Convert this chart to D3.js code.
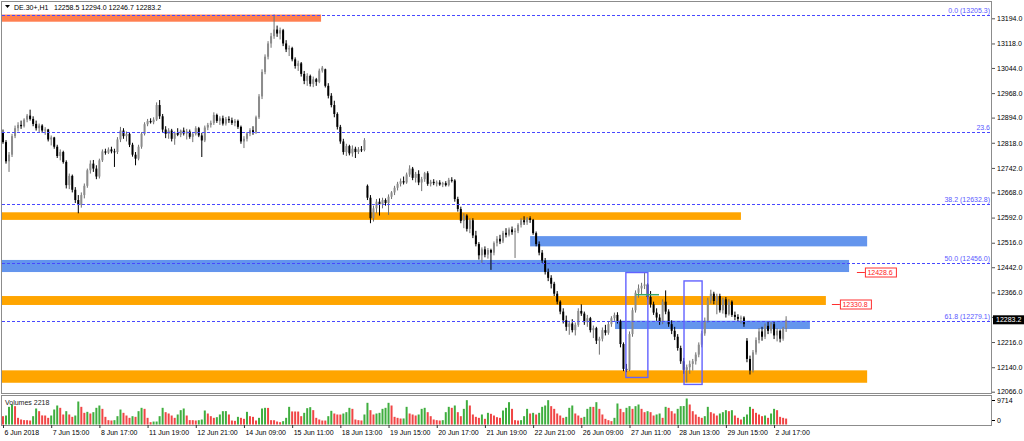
<!DOCTYPE html>
<html><head><meta charset="utf-8">
<script src="https://cdn.jsdelivr.net/npm/d3@7"></script>
<style>
body{margin:0;background:#fff;}
svg{display:block;font-family:"Liberation Sans",Arial,sans-serif;}
</style></head><body>
<svg id="c" width="1024" height="441"></svg>
<script>
const symbol = "DE.30+,H1";
// hourly bars [open, high, low, close], 6 Jun 2018 -> 2 Jul 2018
const bars = [
[12850,12858,12815,12820],[12820,12826,12755,12762],[12762,12790,12730,12782],[12782,12845,12775,12838],[12838,12870,12832,12862],[12862,12880,12852,12872],[12872,12885,12860,12868],[12868,12892,12864,12888],[12888,12905,12880,12900],
[12900,12918,12885,12890],[12890,12898,12868,12875],[12875,12885,12855,12862],[12862,12876,12850,12870],[12870,12874,12848,12855],[12855,12865,12842,12858],[12858,12860,12822,12828],[12828,12840,12810,12834],[12834,12836,12800,12806],[12806,12812,12772,12778],[12778,12798,12765,12790],[12790,12794,12755,12760],[12760,12765,12680,12690],[12690,12725,12678,12718],
[12718,12722,12668,12676],[12676,12684,12636,12645],[12645,12660,12605,12630],[12630,12668,12622,12660],[12660,12695,12650,12688],[12688,12740,12682,12735],[12735,12765,12725,12755],[12755,12766,12730,12740],[12740,12750,12708,12716],[12716,12770,12710,12765],[12765,12798,12760,12792],[12792,12800,12782,12788],[12788,12804,12784,12798],[12798,12806,12786,12792],
[12792,12800,12745,12790],[12790,12835,12784,12828],[12828,12866,12820,12855],[12855,12862,12830,12838],[12838,12852,12822,12845],[12845,12848,12805,12812],[12812,12818,12776,12782],[12782,12790,12750,12770],[12770,12812,12765,12806],[12806,12850,12800,12845],[12845,12880,12840,12874],[12874,12890,12868,12884],[12884,12892,12876,12880],[12880,12895,12874,12888],
[12888,12940,12884,12932],[12932,12947,12890,12898],[12898,12905,12850,12858],[12858,12868,12832,12845],[12845,12862,12830,12855],[12855,12860,12822,12830],[12830,12852,12812,12848],[12848,12862,12838,12842],[12842,12858,12835,12855],[12855,12864,12840,12846],[12846,12860,12828,12852],[12852,12858,12830,12836],[12836,12850,12820,12845],[12845,12868,12840,12862],
[12862,12866,12835,12840],[12840,12848,12775,12825],[12825,12870,12820,12864],[12864,12878,12856,12872],[12872,12885,12864,12878],[12878,12910,12872,12902],[12902,12906,12878,12884],[12884,12898,12872,12892],[12892,12900,12870,12876],[12876,12896,12870,12890],[12890,12898,12878,12886],[12886,12894,12872,12878],[12878,12890,12868,12884],[12884,12888,12860,12866],
[12866,12870,12815,12822],[12822,12838,12802,12830],[12830,12850,12822,12846],[12846,12862,12838,12856],[12856,12868,12842,12850],[12850,12900,12845,12895],[12895,12965,12890,12958],[12958,13040,12950,13032],[13032,13085,13025,13078],[13078,13125,13070,13118],[13118,13150,13105,13140],[13140,13205.3,13132,13160],[13160,13172,13138,13148],[13148,13166,13130,13158],
[13158,13162,13110,13118],[13118,13128,13092,13100],[13100,13112,13080,13104],[13104,13108,13064,13070],[13070,13076,13042,13050],[13050,13066,13035,13058],[13058,13062,13018,13026],[13026,13035,12995,13005],[13005,13028,12990,13020],[13020,13024,12988,12996],[12996,13018,12986,13010],[13010,13014,12990,13002],[13002,13042,12998,13036],[13036,13050,13030,13045],
[13040,13042,12985,12990],[12990,12998,12952,12960],[12960,12968,12925,12932],[12932,12945,12895,12905],[12905,12910,12858,12866],[12866,12872,12815,12822],[12822,12830,12782,12790],[12790,12815,12778,12808],[12808,12812,12780,12786],[12786,12810,12776,12800],[12800,12806,12772,12790],[12790,12805,12784,12798],[12798,12808,12790,12796],[12796,12832,12792,12826],
[12688,12692,12645,12652],[12652,12660,12575,12590],[12590,12628,12580,12620],[12620,12648,12605,12640],[12640,12650,12598,12632],[12632,12652,12620,12645],[12645,12650,12628,12636],[12636,12662,12600,12655],[12655,12672,12648,12668],[12668,12688,12660,12682],[12682,12700,12674,12694],[12694,12710,12686,12702],[12702,12716,12692,12698],[12698,12728,12694,12722],
[12722,12750,12715,12740],[12740,12745,12705,12712],[12712,12730,12698,12724],[12724,12735,12690,12698],[12698,12715,12672,12708],[12708,12730,12700,12726],[12726,12732,12688,12694],[12694,12706,12686,12700],[12700,12708,12690,12696],[12696,12704,12686,12698],[12698,12705,12688,12692],[12692,12700,12684,12696],[12696,12702,12686,12690],[12690,12712,12686,12706],
[12706,12714,12698,12704],[12704,12708,12640,12648],[12648,12655,12610,12618],[12618,12625,12575,12582],[12582,12605,12560,12598],[12598,12602,12550,12558],[12558,12590,12545,12584],[12584,12590,12530,12538],[12538,12552,12505,12512],[12512,12518,12465,12478],[12478,12502,12455,12496],[12496,12505,12472,12480],[12480,12500,12468,12494],[12494,12498,12434,12486],
[12486,12520,12478,12515],[12515,12536,12505,12528],[12528,12540,12512,12520],[12520,12552,12515,12546],[12546,12560,12532,12540],[12540,12562,12535,12556],[12556,12565,12540,12548],[12548,12560,12470,12552],[12552,12575,12545,12570],[12570,12590,12562,12584],[12584,12596,12570,12578],[12578,12594,12570,12590],[12590,12596,12576,12585],[12585,12588,12540,12545],
[12545,12550,12505,12512],[12512,12520,12478,12486],[12486,12494,12455,12462],[12462,12470,12420,12428],[12428,12438,12400,12410],[12410,12418,12378,12392],[12392,12398,12355,12362],[12362,12370,12330,12338],[12338,12342,12300,12308],[12308,12318,12272,12282],[12282,12296,12250,12262],[12262,12280,12238,12272],[12272,12285,12245,12252],[12252,12275,12236,12268],
[12268,12318,12262,12310],[12310,12330,12295,12302],[12302,12308,12268,12276],[12276,12298,12262,12288],[12288,12292,12245,12252],[12252,12266,12228,12258],[12258,12262,12210,12220],[12220,12232,12178,12226],[12226,12260,12218,12252],[12252,12268,12236,12244],[12244,12278,12238,12270],[12270,12294,12262,12288],[12288,12305,12280,12298],[12298,12306,12272,12280],
[12280,12284,12200,12210],[12210,12215,12128,12135],[12135,12150,12125,12132],[12132,12248,12128,12240],[12240,12320,12232,12312],[12312,12372,12305,12365],[12365,12390,12350,12378],[12378,12395,12360,12386],[12386,12425,12376,12390],[12390,12394,12345,12352],[12352,12370,12320,12330],[12330,12338,12298,12305],[12305,12318,12280,12290],[12290,12300,12268,12278],
[12278,12345,12270,12338],[12338,12372,12300,12308],[12308,12315,12262,12270],[12270,12282,12240,12250],[12250,12262,12222,12232],[12232,12240,12190,12198],[12198,12205,12150,12158],[12158,12168,12120,12132],[12132,12148,12094,12140],[12140,12160,12120,12150],[12150,12165,12130,12158],[12158,12185,12148,12178],[12178,12215,12170,12208],[12208,12250,12200,12242],
[12242,12290,12235,12280],[12280,12350,12275,12342],[12342,12374,12332,12362],[12362,12368,12330,12340],[12340,12362,12300,12355],[12355,12362,12305,12312],[12312,12350,12302,12345],[12345,12352,12290,12300],[12300,12346,12296,12338],[12338,12342,12292,12298],[12298,12308,12282,12292],[12292,12300,12278,12286],[12286,12296,12272,12290],[12290,12294,12262,12270],
[12220,12228,12155,12165],[12165,12175,12118,12130],[12130,12192,12124,12185],[12185,12230,12178,12222],[12222,12258,12212,12248],[12248,12262,12220,12232],[12232,12272,12225,12265],[12265,12278,12240,12250],[12250,12276,12242,12270],[12270,12278,12225,12236],[12236,12258,12218,12250],[12250,12254,12215,12226],[12226,12262,12220,12258],[12258.5,12294.0,12246.7,12283.2]
];
const volumes = [
3110,3360,6600,7470,6850,2490,1870,1640,1610,1490,
3110,5980,4980,3400,3360,2490,3360,5600,7100,6230,
3740,4980,3740,2860,3360,8590,6600,4360,4730,4110,
4610,6230,7100,5850,2860,1620,1490,1620,3110,5600,
4360,3360,2490,3110,2860,4980,6230,5850,2490,870,
1100,1120,3110,6230,4610,4110,3360,2490,3740,5360,
5980,3360,1640,1620,1490,1620,1870,5230,4110,3110,
2490,2740,3740,4980,5000,3740,1490,1370,2860,2490,
2120,4730,3110,2860,1490,2490,5980,6230,6200,1620,
1600,1120,870,1250,2490,6600,4880,4860,4840,3110,
4360,6100,6480,5360,2490,1870,1490,1480,3110,5110,
4110,3740,3720,4110,4610,6230,5850,1870,1620,1500,
3740,8100,5350,3740,4110,4360,5850,6230,8100,7100,
2860,2490,2240,2260,6600,4110,3740,3360,3740,5850,
6230,4610,3110,1870,1620,1490,1620,4610,6600,6230,
7100,4610,3110,5850,9090,7100,3740,2860,2490,3740,
2120,4360,3990,3360,2740,2490,5230,6230,8340,5850,
1620,1490,1620,3110,5850,4110,4360,3740,4360,6600,
7100,9090,6850,5850,4110,3360,2490,2860,6230,7100,
4110,3360,2490,2860,5850,6600,6580,8340,5850,3740,
2120,1620,1250,2490,7850,5850,4610,6230,6850,5850,
6850,7470,5850,4610,4980,4610,3360,3740,
4110,2490,6600,6230,4980,4110,5850,6850,6900,9714,
7470,4980,3740,2860,2490,3110,6600,4610,4110,3360,
4110,4610,5350,4980,5350,3360,2490,1870,2860,3740,
6600,5850,4360,3740,3110,3360,2490,4110,5850,5350,
2860,2490,2218
];
const priceTicks = [13194,13118,13044,12968,12894,12818,12742,12668,12592,12516,12442,12366,12292,12216,12140,12066];
const timeLabels = ["6 Jun 2018","7 Jun 15:00","8 Jun 17:00","11 Jun 19:00","12 Jun 21:00","14 Jun 09:00","15 Jun 11:00","18 Jun 13:00","19 Jun 15:00","20 Jun 17:00","21 Jun 19:00","22 Jun 21:00","26 Jun 09:00","27 Jun 11:00","28 Jun 13:00","29 Jun 15:00","2 Jul 17:00"];
const fibPrices = [13205.3,12851.5,12632.8,12456.0,12279.1];
const fibTexts = ["0.0 (13205.3)","23.6","38.2 (12632.8)","50.0 (12456.0)","61.8 (12279.1)"];
// zones: [startBar, endBar, upperPrice, lowerPrice, kind]
const zones = [
[-3,105.6,13205.3,13183.7,"peak"],
[-3,245,12608,12585,"support"],
[175,286.9,12536,12505,"resist"],
[-3,280.9,12464,12427.5,"resist"],
[-3,273.2,12355,12328,"support"],
[-3,286.9,12130.5,12093,"support"],
[203.2,267.9,12280.4,12255.3,"resist"]
];
const boxes = [[206.8,214.1,12426,12109],[226.1,232.1,12400.6,12088]];
const markSegment = [210.2,217.8,12359];
const priceMarks = [[283.5,12428.6],[275.2,12330.8]];
const volMax = 9714;

const zoneColor = {peak:"#ff7f50", support:"#ffa500", resist:"#6495ed"};
const svg = d3.select("#c");
const P = {l:2, r:992, t:2, b:393};
const n = bars.length;
const x = d3.scaleLinear().domain([0, n-1]).range([3, 3 + 3.012*(n-1)]);
const y = d3.scaleLinear().domain([12066, 13194]).range([391.7, 18.3]);
const yv = d3.scaleLinear().domain([0, volMax]).range([424.5, 398.5]);
const FS = "7px";
const last = bars[n-1];

svg.append("defs").append("clipPath").attr("id","cm").append("rect")
  .attr("x",P.l).attr("y",P.t).attr("width",P.r-P.l).attr("height",P.b-P.t);
const g = svg.append("g").attr("clip-path","url(#cm)");

// zones
g.selectAll("rect.zone").data(zones).join("rect").attr("class","zone")
  .attr("x",d=>x(d[0])).attr("width",d=>x(d[1])-x(d[0]))
  .attr("y",d=>y(d[2])).attr("height",d=>y(d[3])-y(d[2]))
  .attr("fill",d=>zoneColor[d[4]]);

// candles
const cg = g.append("g");
bars.forEach((b,i)=>{
  const [o,h,l,c] = b, cx = x(i), up = c >= o;
  cg.append("rect").attr("x",cx-0.5).attr("width",1).attr("y",y(h)).attr("height",Math.max(1,y(l)-y(h)))
    .attr("fill", up ? "#707070" : "#000");
  const top = y(Math.max(o,c)), bot = y(Math.min(o,c));
  cg.append("rect").attr("x",cx-1).attr("width",2).attr("y",top).attr("height",Math.max(1,bot-top))
    .attr("fill", up ? "#8c8c8c" : "#000");
});

// fib lines
g.selectAll("line.fib").data(fibPrices).join("line")
  .attr("x1",P.l).attr("x2",P.r).attr("y1",d=>Math.round(y(d))+0.5).attr("y2",d=>Math.round(y(d))+0.5)
  .attr("stroke","#4848ff").attr("stroke-dasharray","3,2").attr("stroke-width",1);
svg.selectAll("text.fib").data(fibPrices).join("text")
  .attr("x",990).attr("y",d=>y(d)-2).attr("text-anchor","end").attr("font-size",FS)
  .attr("fill","#5a5aff").text((d,i)=>fibTexts[i]);

// outline boxes
g.selectAll("rect.box").data(boxes).join("rect")
  .attr("x",d=>x(d[0])).attr("width",d=>x(d[1])-x(d[0]))
  .attr("y",d=>y(d[2])).attr("height",d=>y(d[3])-y(d[2]))
  .attr("fill","none").attr("stroke","#6262ff").attr("stroke-width",1.4);
g.append("line").attr("x1",x(markSegment[0])).attr("x2",x(markSegment[1]))
  .attr("y1",y(markSegment[2])).attr("y2",y(markSegment[2]))
  .attr("stroke","#3aa56a").attr("stroke-width",1.5);

// price marks
priceMarks.forEach(([bi,p])=>{
  const x0 = x(bi), yy = Math.round(y(p))+0.5;
  svg.append("line").attr("x1",x0).attr("x2",x0+8).attr("y1",yy).attr("y2",yy).attr("stroke","#ff3030");
  svg.append("rect").attr("x",x0+8.5).attr("y",yy-4.5).attr("width",31).attr("height",9)
    .attr("fill","#fff").attr("stroke","#ff3030");
  svg.append("text").attr("x",x0+10.5).attr("y",yy+2.5).attr("font-size",FS).attr("fill","#ff2020").text(p.toFixed(1));
});

// frames
const frame = svg.append("g").attr("stroke","#8c8c8c").attr("fill","none");
frame.append("rect").attr("x",1.5).attr("y",1.5).attr("width",990).attr("height",392);
frame.append("rect").attr("x",1.5).attr("y",395.5).attr("width",990).attr("height",30);

// right price axis (label under the last-price tag is hidden, as in the terminal)
const ay = svg.append("g").attr("transform","translate(992,0)")
  .call(d3.axisRight(y).tickValues(priceTicks).tickFormat(d=>d.toFixed(1)).tickSize(3).tickPadding(2));
ay.select(".domain").remove();
ay.selectAll("text").attr("font-size",FS).attr("font-family","Liberation Sans, Arial, sans-serif").attr("fill","#000");
ay.selectAll(".tick").filter(d=>Math.abs(y(d)-y(last[3]))<8).select("text").remove();
ay.selectAll("line").attr("stroke","#555");

// last price tag
svg.append("rect").attr("x",993).attr("y",y(last[3])-4.5).attr("width",31).attr("height",9).attr("fill","#000");
svg.append("text").attr("x",996).attr("y",y(last[3])+2.5).attr("font-size",FS).attr("fill","#fff").text(last[3].toFixed(1));

// volumes
svg.append("g").selectAll("rect").data(volumes).join("rect")
  .attr("x",(d,i)=>x(i)-1).attr("width",2)
  .attr("y",d=>yv(d)).attr("height",d=>yv(0)-yv(d))
  .attr("fill",(d,i)=> (i>0 && d>volumes[i-1]) ? "#3fae3f" : "#f04545");
const av = svg.append("g").attr("transform","translate(992,0)")
  .call(d3.axisRight(yv).tickValues([volMax,0]).tickFormat(d=>String(d)).tickSize(3).tickPadding(2));
av.select(".domain").remove();
av.selectAll("text").attr("font-size",FS).attr("font-family","Liberation Sans, Arial, sans-serif").attr("fill","#000");
av.selectAll(".tick").filter(d=>d===volMax).attr("transform","translate(0,"+(yv(volMax)+2)+")");
av.selectAll(".tick").filter(d=>d===0).attr("transform","translate(0,"+(yv(0)-4)+")");
svg.append("text").attr("x",5).attr("y",404.5).attr("font-size",FS).attr("fill","#222")
  .text("Volumes " + volumes[volumes.length-1]);

// time axis
const ax = svg.append("g").attr("transform","translate(0,425)")
  .call(d3.axisBottom(x).tickValues(timeLabels.map((t,i)=>i*16)).tickFormat((d,i)=>timeLabels[i]).tickSize(3).tickPadding(2));
ax.select(".domain").remove();
ax.selectAll("text").attr("font-size",FS).attr("font-family","Liberation Sans, Arial, sans-serif").attr("fill","#000")
  .attr("text-anchor","start").attr("dx","1");
ax.selectAll("line").attr("stroke","#333");

// header
svg.append("path").attr("d","M5,5 L10,5 L7.5,8 Z").attr("fill","#000");
svg.append("text").attr("x",14).attr("y",9.5).attr("font-size",FS).attr("fill","#000").text(symbol);
svg.append("text").attr("x",54).attr("y",9.5).attr("font-size",FS).attr("fill","#000")
  .text(last.map(v=>v.toFixed(1)).join(" "));
</script>
</body></html>
